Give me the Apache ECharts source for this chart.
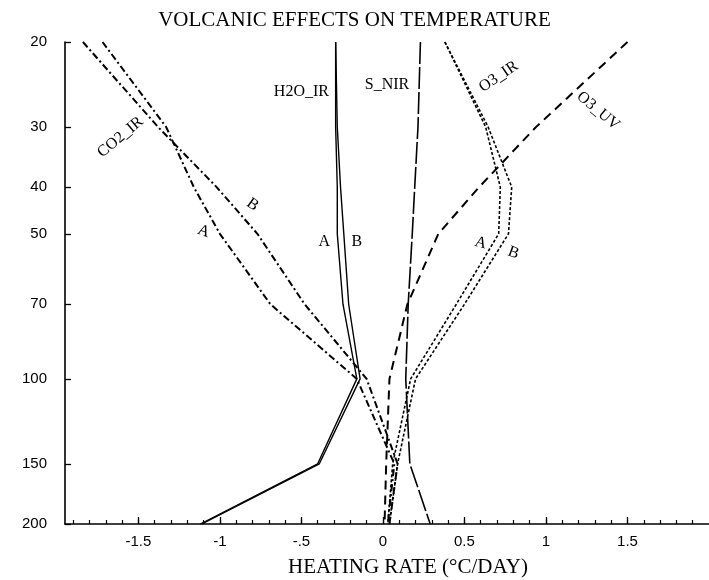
<!DOCTYPE html>
<html>
<head>
<meta charset="utf-8">
<script src="https://cdn.jsdelivr.net/npm/echarts@6/dist/echarts.min.js"></script>
<style>
  html, body { margin: 0; padding: 0; background: #fff; }
  #chart { width: 709px; height: 580px; }
</style>
</head>
<body>
<div id="chart"></div>
<script>
// Pressure levels (hPa), top of the profile first
const pressureLevels = [20, 30, 40, 50, 70, 100, 150, 200];

// Heating rates (°C/day) for each process, cases A and B
const co2IrA = [-1.72, -1.33, -1.16, -1.00, -0.69, -0.16, 0.07, 0.03];
const co2IrB = [-1.84, -1.38, -1.02, -0.77, -0.48, -0.10, 0.09, 0.04];
const h2oIrA = [-0.29, -0.29, -0.28, -0.28, -0.245, -0.16, -0.40, -1.12];
const h2oIrB = [-0.29, -0.28, -0.26, -0.24, -0.21, -0.14, -0.39, -1.11];
const sNir   = [0.23, 0.215, 0.195, 0.18, 0.155, 0.14, 0.165, 0.29];
const o3Uv   = [1.50, 0.94, 0.59, 0.34, 0.15, 0.04, 0.02, 0.01];
const o3IrA  = [0.38, 0.63, 0.72, 0.71, 0.45, 0.17, 0.06, 0.03];
const o3IrB  = [0.38, 0.645, 0.79, 0.77, 0.50, 0.20, 0.09, 0.04];

// Axis ticks and labels
const yTickValues = [20, 30, 40, 50, 70, 100, 150, 200];
const xMajorTicks = [-1.5, -1, -0.5, 0, 0.5, 1, 1.5];
const xMajorLabels = ['-1.5', '-1', '-.5', '0', '0.5', '1', '1.5'];
const xMinorTicks = [-1.9, -1.8, -1.7, -1.6, -1.5, -1.4, -1.3, -1.2, -1.1, -1.0,
  -0.9, -0.8, -0.7, -0.6, -0.5, -0.4, -0.3, -0.2, -0.1, 0,
  0.1, 0.2, 0.3, 0.4, 0.5, 0.6, 0.7, 0.8, 0.9, 1.0,
  1.1, 1.2, 1.3, 1.4, 1.5, 1.6, 1.7, 1.8, 1.9];

// Curve annotations: text, heating rate, pressure, rotation
const curveNames = ['CO2_IR', 'H2O_IR', 'S_NIR', 'O3_IR', 'O3_UV', 'A', 'B', 'A', 'B', 'A', 'B'];
const curveNameX = [-1.61, -0.50, 0.025, 0.71, 1.32, -1.10, -0.80, -0.36, -0.16, 0.60, 0.80];
const curveNameP = [31.5, 25.4, 24.5, 23.6, 27.8, 49.4, 43.5, 52.0, 52.0, 52.2, 54.8];
const curveNameRot = [40, 0, 0, 34, -40, -20, -35, 0, 0, -15, -20];

const serif = '"Liberation Serif", "Times New Roman", serif';
const sans = '"Liberation Sans", Arial, sans-serif';

function profile(values) {
  return values.map((v, i) => [v, pressureLevels[i]]);
}

function curve(name, values, width, dash) {
  return {
    name: name,
    type: 'line',
    xAxisIndex: 0,
    yAxisIndex: 0,
    data: profile(values),
    showSymbol: false,
    symbol: 'none',
    smooth: false,
    lineStyle: { color: '#000', width: width, type: dash },
    z: 3
  };
}

const dashDot = [7, 3, 2, 3];

const chart = echarts.init(document.getElementById('chart'), null, { renderer: 'canvas' });

chart.setOption({
  animation: false,
  backgroundColor: '#fff',
  title: {
    text: 'VOLCANIC EFFECTS ON TEMPERATURE',
    left: 'center',
    top: 5,
    textStyle: { fontFamily: serif, fontWeight: 'normal', fontSize: 21, color: '#000' }
  },
  grid: { left: 65, right: 0, top: 42, bottom: 56 },
  xAxis: [
    {
      type: 'value',
      min: -1.95,
      max: 2.0,
      position: 'bottom',
      axisLine: { show: true, onZero: false, lineStyle: { color: '#000', width: 1.6 } },
      axisTick: { show: true, inside: true, length: 4, customValues: xMinorTicks, lineStyle: { color: '#000', width: 1.2 } },
      axisLabel: { show: false },
      splitLine: { show: false }
    },
    {
      type: 'value',
      min: -1.95,
      max: 2.0,
      position: 'bottom',
      axisLine: { show: false, onZero: false },
      axisTick: { show: true, inside: true, length: 7, customValues: xMajorTicks, lineStyle: { color: '#000', width: 1.3 } },
      axisLabel: {
        show: true,
        customValues: xMajorTicks,
        margin: 10,
        fontFamily: sans,
        fontSize: 15,
        color: '#000',
        formatter: function (v) {
          const i = xMajorTicks.findIndex(t => Math.abs(t - v) < 1e-6);
          return i >= 0 ? xMajorLabels[i] : '';
        }
      },
      splitLine: { show: false }
    }
  ],
  yAxis: {
    type: 'log',
    logBase: 10,
    min: 20,
    max: 200,
    inverse: true,
    axisLine: { show: true, onZero: false, lineStyle: { color: '#000', width: 1.6 } },
    axisTick: { show: true, inside: true, length: 6, customValues: yTickValues, lineStyle: { color: '#000', width: 1.3 } },
    axisLabel: {
      show: true,
      customValues: yTickValues,
      margin: 18,
      fontFamily: sans,
      fontSize: 15,
      color: '#000',
      formatter: function (v) { return String(Math.round(v)); }
    },
    splitLine: { show: false }
  },
  graphic: [
    {
      type: 'text',
      x: 408,
      y: 567,
      style: {
        text: 'HEATING RATE (°C/DAY)',
        font: '21px ' + serif,
        fill: '#000',
        align: 'center',
        verticalAlign: 'middle'
      }
    }
  ],
  series: [
    curve('CO2_IR A', co2IrA, 2, dashDot),
    curve('CO2_IR B', co2IrB, 2, dashDot),
    curve('H2O_IR A', h2oIrA, 1.4, 'solid'),
    curve('H2O_IR B', h2oIrB, 1.4, 'solid'),
    curve('S_NIR', sNir, 1.6, [22, 3]),
    curve('O3_UV', o3Uv, 2, [9, 6]),
    curve('O3_IR A', o3IrA, 1.6, [3, 2]),
    curve('O3_IR B', o3IrB, 1.6, [3, 2]),
    {
      name: 'labels',
      type: 'scatter',
      xAxisIndex: 0,
      yAxisIndex: 0,
      symbolSize: 0,
      silent: true,
      z: 5,
      itemStyle: { opacity: 1 },
      data: curveNames.map((t, i) => ({
        name: t,
        value: [curveNameX[i], curveNameP[i]],
        label: { rotate: curveNameRot[i] }
      })),
      label: {
        show: true,
        position: 'inside',
        formatter: '{b}',
        fontFamily: serif,
        fontWeight: 'normal',
        fontSize: 16,
        color: '#000',
        opacity: 1,
        textBorderWidth: 0
      }
    }
  ]
});
</script>
</body>
</html>
